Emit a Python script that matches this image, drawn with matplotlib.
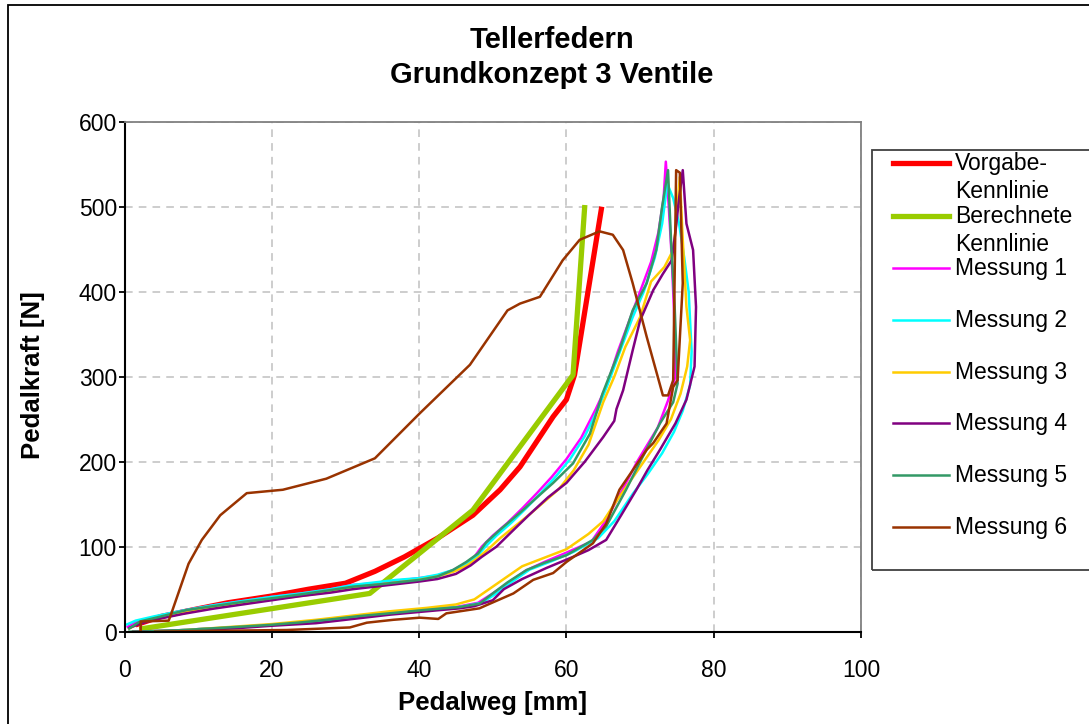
import matplotlib
matplotlib.use("Agg")
import matplotlib.pyplot as plt
from matplotlib.lines import Line2D
from matplotlib.patches import Rectangle

plt.rcParams["font.family"] = ["Liberation Sans", "DejaVu Sans"]

# --- Sollkennlinien -------------------------------------------------------
vorgabe_x = [1.5, 5, 10, 14, 20, 25, 30, 34, 38, 42.5, 47.3, 51, 53.7, 58.2, 60, 61.1, 64.8]
vorgabe_y = [8, 18, 27, 34, 42, 50, 57, 71, 88, 110, 137, 167, 194, 253, 273, 302, 500]

berechnet_x = [2, 33.3, 47.3, 60.9, 62.5]
berechnet_y = [3, 45, 143, 302, 502]

# --- Messungen: Belastung (hoch) + Entlastung (zurueck) -------------------
m1_load_x = [0.3, 1.5, 4, 8, 12, 16, 20, 24, 28, 31, 34, 37, 40, 42.5, 44.5, 46, 47.5, 48.5,
             50, 52, 54, 56, 58, 60, 62, 64, 65.5, 67, 68.5, 70, 71.5, 72.5, 73.2, 73.5]
m1_load_y = [5, 11, 17, 25, 31, 36, 41, 45, 50, 55, 57, 60, 63, 66, 72, 79, 88, 100,
             113, 128, 145, 163, 182, 203, 228, 262, 290, 330, 365, 400, 435, 470, 510, 553]
m1_unload_x = [73.9, 74.3, 74.6, 74.8, 73.8, 72.4, 69.6, 67.8, 65.3, 63.4, 60, 57, 54.5, 52,
               50, 48, 45, 41, 36, 31, 26, 20, 15, 10, 6, 3, 1]
m1_unload_y = [500, 440, 380, 300, 272, 240, 200, 170, 130, 106, 93, 82, 72, 57,
               45, 34, 29, 26, 22, 17, 12, 8, 5, 3, 1, 0.5, 0]

m2_load_x = [0.2, 1.5, 4, 8, 12, 16, 20, 24, 28, 31, 34, 37, 40, 42.5, 44.8, 46.5, 48, 49,
             50.5, 52.5, 54.5, 56.5, 58.5, 60.5, 62.5, 64.3, 66, 67.5, 69, 70.5, 72, 73, 73.7]
m2_load_y = [8, 13, 18, 25, 31, 36, 41, 45, 50, 55, 58, 61, 63, 67, 73, 80, 90, 100,
             113, 128, 145, 163, 182, 203, 230, 262, 300, 335, 370, 400, 440, 480, 527]
m2_unload_x = [74.5, 75.3, 76, 76.6, 77, 76.8, 75.8, 74.6, 73, 71, 69, 66.5, 64.3, 61, 58,
               55, 52.5, 50.5, 48.5, 45.5, 41, 36, 31, 26, 20, 15, 10, 6, 3, 1]
m2_unload_y = [510, 480, 440, 400, 330, 290, 260, 235, 210, 185, 162, 130, 110, 94, 83,
               73, 58, 45, 34, 29, 26, 22, 17, 12, 8, 5, 3, 1, 0.5, 0]

m3_load_x = [0.5, 2, 4, 8, 12, 16, 20, 24, 28, 31, 34, 37, 40, 42.5, 44.8, 46.5, 48, 49.5,
             51, 53, 55, 57, 59, 61, 63, 65, 66.5, 68, 70, 71.5, 73.3, 74.5, 74.9, 75.4]
m3_load_y = [3, 10, 15, 22, 28, 33, 38, 42, 47, 52, 55, 58, 61, 65, 71, 78, 87, 98,
             110, 124, 138, 153, 168, 190, 220, 270, 300, 335, 370, 412, 429, 449, 480, 535]
m3_unload_x = [75.8, 76.3, 76.8, 76.4, 75.5, 74.2, 72.5, 70.5, 68.5, 66.5, 65, 63, 60, 57,
               54, 51.5, 49.5, 47.5, 45, 41, 36, 31, 26, 20, 15, 10, 6, 3, 1]
m3_unload_y = [461, 382, 343, 312, 280, 250, 225, 200, 175, 150, 130, 115, 97, 87,
               77, 62, 50, 38, 32, 28, 24, 19, 14, 9, 6, 3, 1, 0.5, 0]

m4_load_x = [0.5, 2, 4, 8, 12, 16, 20, 24, 28, 31, 34, 37, 40, 42.5, 45, 47, 48.5, 50.5,
             52.5, 55, 57.5, 60, 62.5, 65, 66.5, 66.8, 67.7, 69, 70, 71.8, 73.1, 74.3,
             74.8, 75.3, 75.8]
m4_load_y = [4, 9, 14, 21, 27, 32, 37, 42, 46, 50, 53, 56, 59, 62, 68, 78, 88, 100,
             117, 138, 158, 175, 200, 229, 248, 262, 284, 331, 366, 402, 421, 437,
             470, 510, 543]
m4_unload_x = [76.3, 77.2, 77.6, 77.4, 76.3, 74.8, 72.7, 71, 69.5, 67.5, 65.4, 63, 60.9,
               57.3, 54, 51.5, 50, 47.5, 45.5, 41, 36, 31, 26, 20, 15, 10, 6, 3, 1]
m4_unload_y = [480, 449, 382, 312, 273, 245, 214, 190, 167, 138, 108, 96, 88,
               75, 62, 50, 37, 30, 27.5, 24, 20, 15, 10, 7, 4, 2, 1, 0.5, 0]

m5_load_x = [0.5, 2.1, 5, 8.4, 12, 16, 19.7, 24, 28, 31, 35, 38, 40.1, 42.5, 44.6, 46.4,
             48, 49.1, 51, 53.7, 56, 58.2, 60.9, 63.2, 64.9, 67.2, 69, 70.9, 72.2, 73, 73.8]
m5_load_y = [3, 12, 18, 25.5, 30, 35, 39, 44, 49, 53, 56, 59, 61, 65, 72.6, 82,
             92, 105, 120, 140, 158, 175, 198, 233, 280, 331, 378, 410, 449, 500, 543]
m5_unload_x = [74.2, 74.7, 75.1, 74.5, 72.7, 69.9, 68.1, 65.4, 63.6, 60, 57, 54.6, 52, 50,
               48.2, 45.5, 43.3, 40, 36.5, 32, 28, 24, 19.7, 15, 10, 8.4, 5, 2.1, 0.5]
m5_unload_y = [461, 382, 292, 270, 245, 198, 167, 124, 108, 90, 81, 72.6, 58, 45,
               33, 29, 27.5, 25, 22, 18.5, 14.5, 11, 8, 5.5, 3, 2, 1, 0, 0]

m6_x = [2, 2.2, 2.2, 6, 6.3, 7.5, 8.7, 10.5, 13, 16.6, 21.5, 27.4, 34, 40.1, 46.9, 52,
        53.7, 56.4, 59.5, 61.8, 64.5, 66.3, 67.7, 69, 70.9, 73.1, 73.8, 74.5, 74.9, 75.4,
        75.8, 75.1, 74.5, 73.6, 71.8, 70.9, 67.2, 65.4, 63.6, 60, 58.2, 55.5, 52.8, 49.1,
        48.2, 43.7, 42.6, 40.1, 36.5, 32.9, 30.6, 22, 12, 4]
m6_y = [0, 0, 12, 13, 20, 50, 80, 108, 137, 163, 167, 180, 204, 257, 314, 378,
        386, 394, 437, 461, 471, 467, 449, 410, 347, 278, 278, 296, 543, 540,
        410, 296, 288, 245, 222, 214, 167, 127, 104, 82, 69, 61, 45, 31,
        27.5, 21.6, 15, 16.5, 14, 10.6, 5, 2, 1, 0]

labels = ["Vorgabe-\nKennlinie", "Berechnete\nKennlinie", "Messung 1", "Messung 2",
          "Messung 3", "Messung 4", "Messung 5", "Messung 6"]
colors = ["#FF0000", "#99CC00", "#FF00FF", "#00FFFF", "#FFCC00", "#800080", "#339966", "#993300"]
widths = [3.8, 3.8, 1.8, 1.8, 1.8, 1.8, 1.8, 1.8]

series = [
    (vorgabe_x, vorgabe_y),
    (berechnet_x, berechnet_y),
    (m1_load_x + m1_unload_x, m1_load_y + m1_unload_y),
    (m2_load_x + m2_unload_x, m2_load_y + m2_unload_y),
    (m3_load_x + m3_unload_x, m3_load_y + m3_unload_y),
    (m4_load_x + m4_unload_x, m4_load_y + m4_unload_y),
    (m5_load_x + m5_unload_x, m5_load_y + m5_unload_y),
    (m6_x, m6_y),
]

W, H = 1089, 724


def fx(px):
    return px / W


def fy(py):
    return 1 - py / H


fig = plt.figure(figsize=(W / 100, H / 100), dpi=100)
fig.patches.append(Rectangle((fx(8), fy(780)), fx(1120) - fx(8), fy(5) - fy(780),
                             transform=fig.transFigure, fill=False, ec="black", lw=1.3))

ax = fig.add_axes([fx(124.5), fy(631.7), (861 - 124.5) / W, (631.7 - 121.7) / H])
for (x, y), c, lw in zip(series, colors, widths):
    ax.plot(x, y, color=c, lw=lw, solid_joinstyle="round", solid_capstyle="butt")

ax.set_xlim(0, 100)
ax.set_ylim(0, 600)
ax.set_xticks(range(0, 101, 20))
ax.set_yticks(range(0, 601, 100))
ax.grid(True, color="#C0C0C0", ls=(0, (5, 4)), lw=1.1)
ax.set_axisbelow(True)
ax.tick_params(direction="out", length=4, width=1.3, labelsize=16.5)
ax.tick_params(axis="y", pad=1.5)
ax.tick_params(axis="x", pad=16)
for side in ("top", "right"):
    ax.spines[side].set_color("#808080")
    ax.spines[side].set_linewidth(1.3)
for side in ("left", "bottom"):
    ax.spines[side].set_color("black")
    ax.spines[side].set_linewidth(1.5)

fig.text(fx(552), fy(40), "Tellerfedern", ha="center", va="center", fontsize=21, weight="bold")
fig.text(fx(552), fy(75), "Grundkonzept 3 Ventile", ha="center", va="center",
         fontsize=21, weight="bold")
fig.text(fx(493), fy(703), "Pedalweg [mm]", ha="center", va="center", fontsize=18.5, weight="bold")
fig.text(fx(33), fy(375), "Pedalkraft [N]", ha="center", va="center", rotation=90,
         fontsize=18.5, weight="bold")

# Legende rechts neben dem Diagramm
fig.patches.append(Rectangle((fx(872), fy(570)), fx(1110) - fx(872), fy(150) - fy(570),
                             transform=fig.transFigure, fill=False, ec="#404040", lw=1.3))
rows = [163, 216, 268, 320, 372, 423, 475, 527]
for row, lab, c, lw in zip(rows, labels, colors, widths):
    fig.lines.append(Line2D([fx(893), fx(949)], [fy(row), fy(row)], color=c, lw=lw,
                            transform=fig.transFigure))
    fig.text(fx(955), fy(row - 11), lab, ha="left", va="top", fontsize=16.5,
             linespacing=1.3)

fig.savefig("out.png", dpi=100)
